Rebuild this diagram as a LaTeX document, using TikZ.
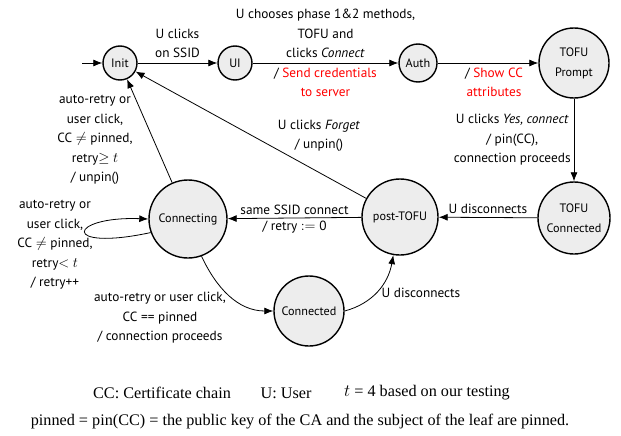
\documentclass[tikz,border=0pt]{standalone}
\usepackage{fontspec}
\setmainfont{Liberation Serif}
\newfontfamily\lblfont{PT Sans}
\usetikzlibrary{arrows.meta}
\begin{document}
\begin{tikzpicture}[x=1pt,y=-1pt,
  state/.style={circle,draw,line width=1.4pt,fill=black!7,
    font=\lblfont\fontsize{12.2}{20}\selectfont,inner sep=0pt,align=center},
  lbl/.style={font=\lblfont\fontsize{13.3}{19.5}\selectfont,align=center,inner sep=3pt},
  legend/.style={font=\fontsize{16.2}{18}\selectfont,inner sep=0pt},
  edge/.style={-{Latex[length=9pt,width=7pt]},line width=0.8pt}]
\useasboundingbox (0,0) rectangle (621,436);

% states
\node[state,minimum size=34pt] (init) at (120,63) {Init};
\node[state,minimum size=34pt] (ui) at (235,63) {UI};
\node[state,minimum size=38pt] (auth) at (418,63) {Auth};
\node[state,minimum size=70pt] (prompt) at (574,63) {TOFU\\Prompt};
\node[state,minimum size=72pt] (tconn) at (574,218) {TOFU\\Connected};
\node[state,minimum size=76pt] (post) at (400,217) {post-TOFU};
\node[state,minimum size=78pt] (connecting) at (188,219) {Connecting};
\node[state,minimum size=70pt] (connected) at (309,311) {Connected};
\coordinate (start) at (82,63);

% transitions
\draw[edge] (start) -- (init);
\draw[edge] (init) -- (ui) node[lbl,midway,above,inner sep=4.5pt]{U clicks\\on SSID};
\draw[edge] (ui) -- (auth)
  node[lbl,midway,above,inner sep=4.5pt]{U chooses phase 1\&2 methods,\\TOFU and\\clicks \emph{Connect}}
  node[lbl,midway,below,inner sep=4.5pt]{/ \textcolor{red}{Send credentials}\\\textcolor{red}{to server}};
\draw[edge] (auth) -- (prompt)
  node[lbl,midway,below,xshift=6pt,inner sep=4.5pt]{/ \textcolor{red}{Show CC}\\\textcolor{red}{attributes}};
\draw[edge] (prompt) -- (tconn)
  node[lbl,midway,left]{U clicks \emph{Yes, connect}\\/ pin(CC),\\connection proceeds};
\draw[edge] (tconn) -- (post) node[lbl,midway,above]{U disconnects};
\draw[edge] (post) -- (connecting)
  node[lbl,midway,above]{same SSID connect}
  node[lbl,midway,below]{/ retry $:=$ 0};
\draw[edge] (post) -- (init);
\node[lbl] (forgetlbl) at (319,136) {U clicks \emph{Forget}\\/ unpin()};
\draw[edge] (connecting) -- (init);
\node[lbl] (unpinlbl) at (95,140) {auto-retry or\\user click,\\CC $\neq$ pinned,\\retry$\geq$ $t$\\/ unpin()};
\draw[edge] (connecting.200) .. controls (60,252) and (68,216) .. (connecting.180);
\node[lbl] (looplbl) at (55,245) {auto-retry or\\user click,\\CC $\neq$ pinned,\\retry$<$ $t$\\/ retry++};
\draw[edge] (connecting.-70) to[out=-65,in=180] (connected.west);
\node[lbl] (pinnedlbl) at (160,318) {auto-retry or user click,\\CC == pinned\\/ connection proceeds};
\draw[edge] (connected.east) to[out=15,in=-100] (post.-100);
\node[lbl] (disclbl) at (421,293) {U disconnects};

% legend
\node[legend] (legcc) at (162,393) {CC: Certificate chain};
\node[legend] (legu) at (286,393) {U: User};
\node[legend] (legt) at (427,393) {$t$ = 4 based on our testing};
\node[legend] (legpin) at (300,422)
  {pinned = pin(CC) = the public key of the CA and the subject of the leaf are pinned.};
\end{tikzpicture}
\end{document}
